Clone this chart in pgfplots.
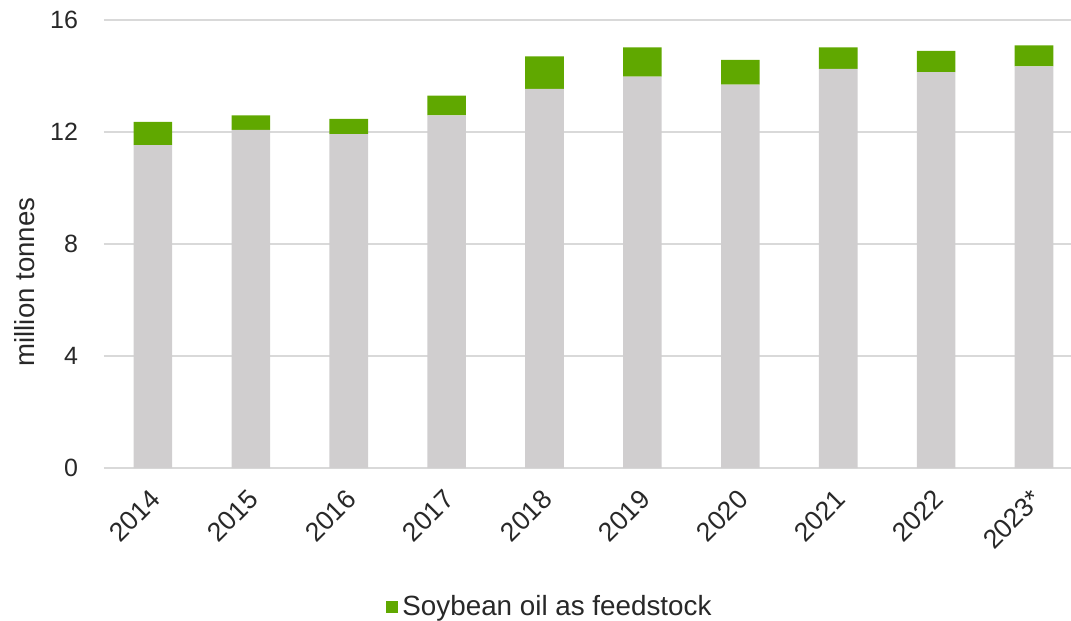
\documentclass[border=0pt]{standalone}
\usepackage{pgfplots}
\pgfplotsset{compat=1.18}
\usepackage{fontspec}
\setmainfont{Liberation Sans}
\definecolor{soygreen}{RGB}{96,168,0}
\definecolor{bargray}{RGB}{208,206,207}
\definecolor{gridgray}{RGB}{217,217,217}
\definecolor{txt}{RGB}{40,40,40}
\begin{document}
\begin{tikzpicture}
\path[use as bounding box] (-52pt,-76.5pt) rectangle (483.5pt,234pt);
\begin{axis}[
  at={(0,0)}, anchor=south west,
  scale only axis,
  width=484.6pt, height=224pt,
  ybar stacked,
  bar width=19.3pt,
  xmin=-0.5, xmax=9.4,
  ymin=0, ymax=16,
  ytick={0,4,8,12,16},
  xtick={0,...,9},
  xticklabels={2014,2015,2016,2017,2018,2019,2020,2021,2022,2023*},
  x tick label style={xshift=-2pt, yshift=-8.5pt, rotate=45, anchor=north east, font=\fontsize{13.3}{15}\selectfont, text=txt, inner sep=1pt},
  y tick label style={font=\fontsize{12.5}{14}\selectfont, text=txt, xshift=-9.5pt},
  /pgf/number format/assume math mode=true,
  ymajorgrids, grid style={gridgray, line width=0.7pt},
  axis x line*=bottom, axis y line*=left,
  x axis line style={gridgray, line width=0.7pt},
  y axis line style={draw=none},
  major tick length=0pt,
  ylabel={million tonnes},
  ylabel style={font=\fontsize{13.8}{16}\selectfont, text=txt, at={(axis description cs:-0.0815,0.415)}, anchor=center},
  legend style={at={(0.461,-0.31)}, anchor=center, draw=none, font=\fontsize{13.9}{16}\selectfont, text=txt, legend columns=1, inner sep=0pt},
  legend image code/.code={\fill[soygreen] (0pt,-3.1pt) rectangle (6.2pt,3.1pt);},
  clip=false,
]
\addplot[fill=bargray, draw=none, forget plot] coordinates {
 (0,11.53) (1,12.08) (2,11.92) (3,12.59) (4,13.54) (5,13.98) (6,13.69) (7,14.25) (8,14.14) (9,14.34)};
\addplot[fill=soygreen, draw=none] coordinates {
 (0,0.83) (1,0.51) (2,0.55) (3,0.71) (4,1.16) (5,1.04) (6,0.89) (7,0.77) (8,0.76) (9,0.75)};
\addlegendentry{Soybean oil as feedstock}
\end{axis}
\end{tikzpicture}
\end{document}
